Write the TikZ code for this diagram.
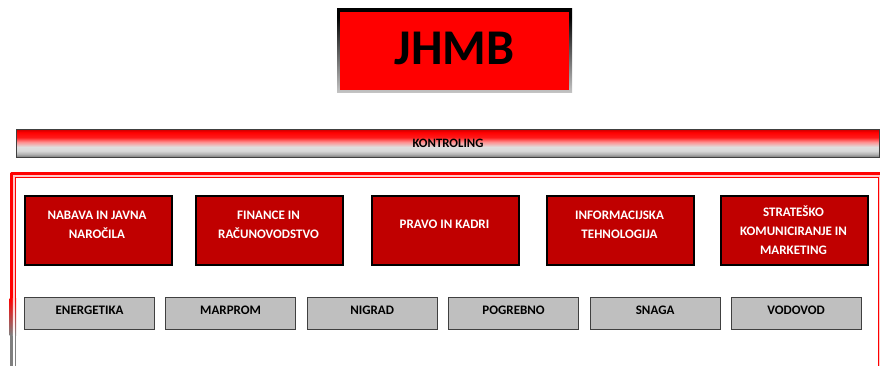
\documentclass[tikz,border=0pt]{standalone}
\usepackage{fontspec}
\setmainfont{Carlito}
\definecolor{dred}{HTML}{C00000}
\definecolor{lgray}{HTML}{BFBFBF}
\definecolor{bgray}{HTML}{404040}
\pgfdeclareverticalshading{kbar}{100bp}{color(0bp)=(gray!90!black); color(25bp)=(gray!90!black); color(31bp)=(gray!60); color(37bp)=(gray!30); color(44bp)=(gray!25); color(53bp)=(red!45); color(61bp)=(red!90); color(70bp)=(red); color(75bp)=(red!80!black); color(100bp)=(red!80!black)}
\pgfdeclareverticalshading{hframe}{100bp}{color(0bp)=(gray!45); color(25bp)=(gray!45); color(50bp)=(gray!70!black); color(70bp)=(black); color(100bp)=(black)}
\tikzset{
  unit/.style={draw=black, line width=2.2pt, fill=dred, minimum width=147pt, minimum height=69pt, inner sep=0pt, anchor=north west},
  comp/.style={draw=bgray, line width=1.2pt, fill=lgray, text=black, font=\fontsize{13}{15}\selectfont\bfseries, minimum width=130pt, minimum height=32pt, inner sep=0pt, text height=9pt, text depth=5.6pt, anchor=north west},
  lbl/.style={text=white, font=\fontsize{13}{19}\selectfont\bfseries, align=center, inner sep=0pt}
}
\begin{document}
\begin{tikzpicture}[x=1pt,y=-1pt]
\useasboundingbox (0,0) rectangle (880,366);
% title box
\shade[shading=hframe] (337,9) rectangle (572,93);
\fill[red] (340,12.5) rectangle (569,90);
\node[font=\fontsize{50}{50}\selectfont\bfseries, inner sep=0pt] (title) at (454.5,48) {JHMB};
% kontroling bar
\shade[shading=kbar, draw=bgray, line width=1pt] (16.5,129.5) rectangle (879.5,157.5);
\node[font=\fontsize{12.8}{13}\selectfont\bfseries, inner sep=0pt] (kontr) at (448,143) {KONTROLING};
% container
\fill[red!22] (9.5,172) rectangle (890,400);
\draw[red, line width=3pt] (11,173.5) -- (890,173.5);
\draw[red, line width=3pt] (11,173.5) -- (11,400);
\fill[white] (15.5,177.5) rectangle (878.5,400);
\draw[red, line width=1pt] (15.5,400) -- (15.5,177.5) -- (878.5,177.5) -- (878.5,400);
\shade[top color=red, bottom color=gray] (9.5,298) rectangle (12.8,335);
\fill[gray] (9.5,335) rectangle (12.8,366);
\shade[top color=red!22, bottom color=white] (12.8,298) rectangle (15,335);
\fill[white] (12.8,335) rectangle (15,366);
\shade[top color=red, bottom color=gray] (15,298) rectangle (16,335);
\fill[gray] (15,335) rectangle (16,366);
% units
\node[unit] (u1) at (23.5,194.5) {};
\node[unit] (u2) at (195,194.5) {};
\node[unit] (u3) at (371,194.5) {};
\node[unit] (u4) at (546,194.5) {};
\node[unit] (u5) at (720,194.5) {};
\node[lbl] (t1) at (97,225) {NABAVA IN JAVNA\\NAROČILA};
\node[lbl] (t2) at (268.5,225) {FINANCE IN\\RAČUNOVODSTVO};
\node[lbl] (t3) at (444.5,224) {PRAVO IN KADRI};
\node[lbl] (t4) at (619.5,225) {INFORMACIJSKA\\TEHNOLOGIJA};
\node[lbl] (t5) at (793.5,230) {STRATEŠKO\\KOMUNICIRANJE IN\\MARKETING};
% companies
\node[comp] (c1) at (24,296.5) {ENERGETIKA};
\node[comp] (c2) at (165,296.5) {MARPROM};
\node[comp] (c3) at (306.5,296.5) {NIGRAD};
\node[comp] (c4) at (448,296.5) {POGREBNO};
\node[comp] (c5) at (589.5,296.5) {SNAGA};
\node[comp] (c6) at (730.5,296.5) {VODOVOD};
\end{tikzpicture}
\end{document}
